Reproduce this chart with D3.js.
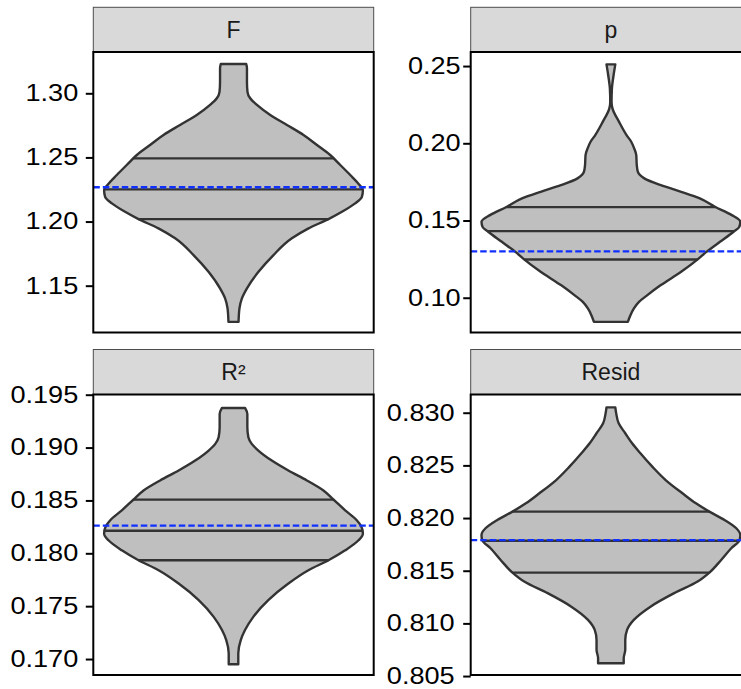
<!DOCTYPE html>
<html>
<head>
<meta charset="utf-8">
<script src="https://cdn.jsdelivr.net/npm/d3@7"></script>
<style>
  body { margin: 0; background: #ffffff; }
  svg { display: block; }
</style>
</head>
<body>
<svg id="chart" width="741" height="689"></svg>
<script>
// Facet titles, in reading order
const panelNames = ["F", "p", "R²", "Resid"];

// Violin outlines: statistic value and relative density (1 = widest point)
const fValues  = [1.1218, 1.1323, 1.1401, 1.1479, 1.1608, 1.1739, 1.1869, 1.1947, 1.2019, 1.2076, 1.2142, 1.2193, 1.2246, 1.2285, 1.2363, 1.2441, 1.2519, 1.2597, 1.2675, 1.2753, 1.2831, 1.2909, 1.2961, 1.3012, 1.3090, 1.3195, 1.3229];
const fDensity = [0.039, 0.046, 0.065, 0.104, 0.193, 0.309, 0.451, 0.580, 0.734, 0.838, 0.940, 0.992, 1.000, 0.974, 0.902, 0.825, 0.747, 0.645, 0.541, 0.413, 0.284, 0.181, 0.129, 0.108, 0.104, 0.104, 0.098];

const pValues  = [0.0844, 0.0887, 0.0931, 0.0973, 0.1017, 0.1082, 0.1168, 0.1250, 0.1297, 0.1362, 0.1427, 0.1459, 0.1492, 0.1535, 0.1589, 0.1643, 0.1686, 0.1729, 0.1773, 0.1816, 0.1859, 0.1924, 0.1967, 0.2010, 0.2053, 0.2139, 0.2226, 0.2269, 0.2356, 0.2442, 0.2511];
const pDensity = [0.131, 0.151, 0.178, 0.217, 0.282, 0.386, 0.543, 0.673, 0.738, 0.843, 0.948, 0.992, 1.000, 0.934, 0.804, 0.687, 0.543, 0.386, 0.258, 0.208, 0.200, 0.196, 0.180, 0.157, 0.121, 0.063, 0.012, 0.005, 0.008, 0.021, 0.034];

const r2Values  = [0.16950, 0.17054, 0.17179, 0.17274, 0.17399, 0.17557, 0.17714, 0.17840, 0.17934, 0.18028, 0.18123, 0.18186, 0.18255, 0.18311, 0.18406, 0.18509, 0.18594, 0.18689, 0.18783, 0.18877, 0.18972, 0.19035, 0.19097, 0.19192, 0.19318, 0.19375];
const r2Density = [0.037, 0.037, 0.056, 0.089, 0.153, 0.269, 0.424, 0.579, 0.734, 0.863, 0.966, 1.000, 0.987, 0.954, 0.863, 0.772, 0.695, 0.567, 0.424, 0.296, 0.192, 0.141, 0.115, 0.107, 0.107, 0.089];

const residValues  = [0.80622, 0.80670, 0.80749, 0.80843, 0.80938, 0.81033, 0.81159, 0.81287, 0.81397, 0.81482, 0.81602, 0.81713, 0.81792, 0.81840, 0.81903, 0.81982, 0.82061, 0.82140, 0.82235, 0.82361, 0.82488, 0.82615, 0.82710, 0.82805, 0.82899, 0.82994, 0.83051];
const residDensity = [0.099, 0.099, 0.111, 0.111, 0.125, 0.177, 0.306, 0.489, 0.670, 0.761, 0.852, 0.930, 0.995, 1.000, 0.969, 0.878, 0.761, 0.657, 0.553, 0.423, 0.320, 0.228, 0.164, 0.111, 0.060, 0.041, 0.034];

// 25th, 50th and 75th percentiles drawn inside each violin
const fQuantiles     = [1.2019, 1.2251, 1.2493];
const pQuantiles     = [0.1248, 0.1431, 0.1587];
const r2Quantiles    = [0.17934, 0.18214, 0.18508];
const residQuantiles = [0.81482, 0.81784, 0.82061];

// Reference values (dashed blue lines)
const refValues = [1.2267, 0.1300, 0.18262, 0.81790];

// Axis ticks and y ranges per facet
const fTicks     = [1.15, 1.20, 1.25, 1.30];
const pTicks     = [0.10, 0.15, 0.20, 0.25];
const r2Ticks    = [0.170, 0.175, 0.180, 0.185, 0.190, 0.195];
const residTicks = [0.805, 0.810, 0.815, 0.820, 0.825, 0.830];

const fDomain     = [1.1135, 1.3322];
const pDomain     = [0.0775, 0.2591];
const r2Domain    = [0.16849, 0.19502];
const residDomain = [0.80510, 0.83173];

const panels = [
  { name: panelNames[0], values: fValues, density: fDensity, quantiles: fQuantiles, ref: refValues[0], ticks: fTicks, domain: fDomain, fmt: ".2f", col: 0, row: 0, gap: 15 },
  { name: panelNames[1], values: pValues, density: pDensity, quantiles: pQuantiles, ref: refValues[1], ticks: pTicks, domain: pDomain, fmt: ".2f", col: 1, row: 0, gap: 10 },
  { name: panelNames[2], values: r2Values, density: r2Density, quantiles: r2Quantiles, ref: refValues[2], ticks: r2Ticks, domain: r2Domain, fmt: ".3f", col: 0, row: 1, gap: 15 },
  { name: panelNames[3], values: residValues, density: residDensity, quantiles: residQuantiles, ref: refValues[3], ticks: residTicks, domain: residDomain, fmt: ".3f", col: 1, row: 1, gap: 16 }
];

// Grid geometry
const colX  = [[93.3, 373.7], [470.7, 751.1]];
const strip = [[7.3, 52], [349.5, 394.5]];
const body  = [[52, 332.5], [394.5, 675]];
const halfWidthFrac = 0.4615;
const tickLen = 7.5;
const labelStretch = 1.18;

const svg = d3.select("#chart");
const fontFamily = "'Liberation Sans', Arial, Helvetica, sans-serif";

panels.forEach((p, i) => {
  const [x0, x1] = colX[p.col];
  const [py0, py1] = body[p.row];
  const [sy0, sy1] = strip[p.row];
  const cx = (x0 + x1) / 2;
  const hw = halfWidthFrac * (x1 - x0);

  const y = d3.scaleLinear().domain(p.domain).range([py1, py0]);
  const x = d3.scaleLinear().domain([-1, 1]).range([cx - hw, cx + hw]);
  const widthAt = d3.scaleLinear().domain(p.values).range(p.density);

  const g = svg.append("g");

  // strip
  g.append("rect")
    .attr("x", x0).attr("y", sy0)
    .attr("width", x1 - x0).attr("height", sy1 - sy0)
    .attr("fill", "#d9d9d9").attr("stroke", "#4d4d4d").attr("stroke-width", 1);
  g.append("text")
    .attr("x", cx).attr("y", (sy0 + sy1) / 2)
    .attr("dy", "0.36em")
    .attr("text-anchor", "middle")
    .attr("font-family", fontFamily)
    .attr("font-size", 23)
    .attr("fill", "#1a1a1a")
    .text(p.name);

  // clip to panel
  const clipId = "clip" + i;
  svg.append("clipPath").attr("id", clipId)
    .append("rect").attr("x", x0).attr("y", py0).attr("width", x1 - x0).attr("height", py1 - py0);

  const inner = g.append("g").attr("clip-path", `url(#${clipId})`);
  inner.append("rect")
    .attr("x", x0).attr("y", py0).attr("width", x1 - x0).attr("height", py1 - py0)
    .attr("fill", "#ffffff");

  const pts = p.values.map((v, k) => ({ v, d: p.density[k] }));
  const area = d3.area()
    .curve(d3.curveMonotoneY)
    .y(d => y(d.v))
    .x0(d => x(-d.d))
    .x1(d => x(d.d));

  inner.append("path")
    .attr("d", area(pts))
    .attr("fill", "#bfbfbf")
    .attr("stroke", "#333333")
    .attr("stroke-width", 2.4)
    .attr("stroke-linejoin", "round");

  inner.selectAll("line.q")
    .data(p.quantiles)
    .join("line")
    .attr("class", "q")
    .attr("x1", q => x(-widthAt(q)))
    .attr("x2", q => x(widthAt(q)))
    .attr("y1", q => y(q))
    .attr("y2", q => y(q))
    .attr("stroke", "#333333")
    .attr("stroke-width", 2.4);

  inner.append("line")
    .attr("x1", x0).attr("x2", x1)
    .attr("y1", y(p.ref)).attr("y2", y(p.ref))
    .attr("stroke", "#1030ff")
    .attr("stroke-width", 2.4)
    .attr("stroke-dasharray", "6.5,3");

  // panel border
  g.append("rect")
    .attr("x", x0).attr("y", py0).attr("width", x1 - x0).attr("height", py1 - py0)
    .attr("fill", "none").attr("stroke", "#000000").attr("stroke-width", 2);

  // y axis
  const axis = d3.axisLeft(y)
    .tickValues(p.ticks)
    .tickSize(tickLen)
    .tickFormat(d3.format(p.fmt));
  const ag = g.append("g").attr("transform", `translate(${x0},0)`).call(axis);
  ag.select(".domain").remove();
  ag.selectAll(".tick line").attr("stroke", "#000000").attr("stroke-width", 2);
  ag.selectAll(".tick text")
    .attr("x", 0)
    .attr("transform", `translate(${-p.gap},0) scale(${labelStretch},1)`)
    .attr("font-family", fontFamily)
    .attr("font-size", 23)
    .attr("fill", "#000000");
});
</script>
</body>
</html>
